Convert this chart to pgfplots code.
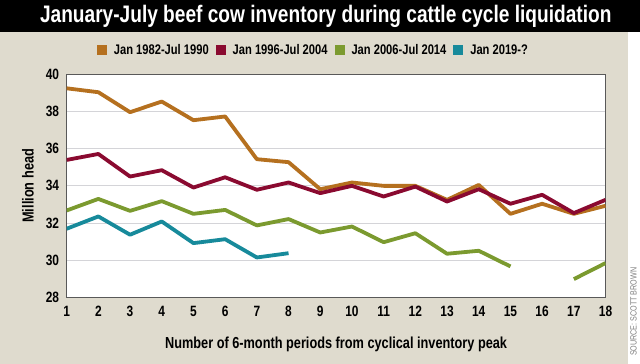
\documentclass[border=0pt]{standalone}
\usepackage{fontspec}
\setmainfont{Liberation Sans}[FakeStretch=0.8]
\usepackage{pgfplots}
\pgfplotsset{compat=1.18}
\definecolor{beige}{HTML}{DFDBCE}
\definecolor{corange}{HTML}{B5701F}
\definecolor{cred}{HTML}{8A0A30}
\definecolor{cgreen}{HTML}{7B9A2F}
\definecolor{cteal}{HTML}{178A9B}
\definecolor{gridc}{HTML}{D4D4D8}
\begin{document}
\begin{tikzpicture}[x=1bp,y=1bp]
\fill[white] (0,0) rectangle (640,364);
\fill[beige] (0,0) rectangle (628,332);
\fill[black] (0,332) rectangle (640,364);
\node[white, font=\bfseries\fontsize{24}{26}\selectfont] at (326,348) {January-July beef cow inventory during cattle cycle liquidation};
\node[rotate=90, gray, font=\fontsize{9}{10}\selectfont] at (634,52) {SOURCE: SCOTT BROWN};
\begin{axis}[
  at={(66.7bp,66bp)}, anchor=south west, scale only axis,
  width=539.3bp, height=224bp,
  xmin=1, xmax=18, ymin=28, ymax=40,
  xtick={1,...,18}, ytick={28,30,...,40},
  ymajorgrids, major grid style={gridc, line width=0.8bp},
  major tick length=0pt,
  axis line style={draw=black!65, line width=0.8bp},
  axis background/.style={fill=white},
  /pgf/number format/assume math mode=true,
  tick label style={font=\bfseries\fontsize{15}{16}\selectfont},
  xticklabel style={yshift=-5bp},
  yticklabel style={xshift=-4bp},
  xlabel={Number of 6-month periods from cyclical inventory peak},
  ylabel={Million head},
  label style={font=\bfseries\fontsize{16}{18}\selectfont},
  xlabel style={at={(axis description cs:0.5,-0.21)}, anchor=center},
  ylabel style={at={(axis description cs:-0.0718,0.5)}, anchor=center, rotate=0},
  legend columns=4,
  legend style={draw=none, fill=none, at={(axis description cs:0.458,1.107)}, anchor=center,
    font=\bfseries\fontsize{14}{16}\selectfont, column sep=5bp},
  legend image code/.code={\fill[#1, draw=none] (0bp,-5bp) rectangle (10bp,5bp);},
  every axis plot/.append style={line width=3.8bp, line join=round, no markers},
]
\addplot[corange] coordinates {(1,39.23)(2,39.02)(3,37.95)(4,38.52)(5,37.52)(6,37.72)(7,35.43)(8,35.27)(9,33.82)(10,34.18)(11,34.0)(12,34.0)(13,33.25)(14,34.05)(15,32.5)(16,33.04)(17,32.5)(18,32.93)};
\addlegendentry{Jan 1982-Jul 1990}
\addplot[cred] coordinates {(1,35.39)(2,35.71)(3,34.5)(4,34.84)(5,33.91)(6,34.46)(7,33.79)(8,34.18)(9,33.61)(10,34.0)(11,33.43)(12,33.96)(13,33.16)(14,33.82)(15,33.04)(16,33.52)(17,32.54)(18,33.25)};
\addlegendentry{Jan 1996-Jul 2004}
\addplot[cgreen] coordinates {(1,32.68)(2,33.3)(3,32.66)(4,33.18)(5,32.5)(6,32.71)(7,31.88)(8,32.22)(9,31.5)(10,31.82)(11,30.98)(12,31.46)(13,30.36)(14,30.52)(15,29.68)};
\addlegendentry{Jan 2006-Jul 2014}
\addplot[cteal] coordinates {(1,31.70)(2,32.36)(3,31.38)(4,32.09)(5,30.93)(6,31.14)(7,30.16)(8,30.39)};
\addlegendentry{Jan 2019-?}
\addplot[cgreen, forget plot] coordinates {(17,29.0)(18,29.86)};
\end{axis}
\end{tikzpicture}
\end{document}
